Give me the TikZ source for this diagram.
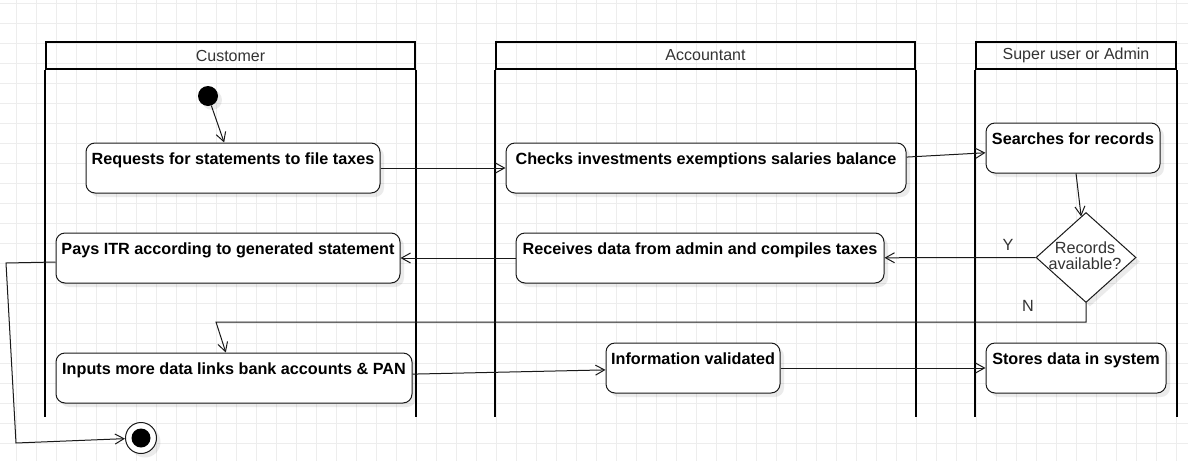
\documentclass[tikz,border=0pt]{standalone}
\usepackage{fontspec}
\setmainfont{Liberation Sans}
\usepackage{xcolor}
\usepackage{tikz}
\usetikzlibrary{arrows.meta,shapes.geometric,shadows}

\tikzset{
	gridline/.style={draw=black!7, line width=0.9pt},
	lanehead/.style={draw=black, line width=2.2pt, minimum height=27pt, inner sep=0pt, text=black!80, font=\fontsize{16}{16}\selectfont},
	laneline/.style={draw=black, line width=2.2pt},
	shade/.style={drop shadow={shadow xshift=4pt, shadow yshift=-4pt, opacity=0.08, fill=black}},
	act/.style={draw=black!90, line width=1pt, fill=white, rounded corners=9pt, shade, minimum height=50pt, inner ysep=5.5pt, text height=15.5pt, text depth=23.5pt, font=\bfseries\fontsize{16.2}{16}\selectfont},
	decide/.style={diamond, draw=black!90, line width=1pt, fill=white, shade, inner sep=0pt, minimum width=100pt, minimum height=90pt},
	startdot/.style={circle, fill=black, shade, minimum size=20pt, inner sep=0pt},
	enddot/.style={circle, draw=black!90, line width=1pt, fill=white, shade, minimum size=31pt, inner sep=0pt, path picture={\fill[black] (path picture bounding box.center) circle (9.5pt);}},
	flow/.style={draw=black!90, line width=1pt, -{Straight Barb[length=9pt,width=10pt]}},
	tag/.style={text=black!80, font=\fontsize{16.2}{16}\selectfont}
}

\begin{document}
\begin{tikzpicture}[x=1pt, y=-1pt]
		\useasboundingbox (0,0) rectangle (1188,461);
		% Background grid
		\foreach \gx in {16,36,...,1176} \draw[gridline] (\gx,0) -- (\gx,461);
		\foreach \gy in {3,23,...,443} \draw[gridline] (0,\gy) -- (1188,\gy);
		% Lanes
		%% Customer
		\node[lanehead, minimum width=369pt] (cust) at (230.5, 55.5) {Customer};
		\draw[laneline] (cust.south west) -- ++(0,347);
		\draw[laneline] (cust.south east) -- ++(0,347);
		%% Accountant
		\node[lanehead, minimum width=419pt] (acct) at (705.5, 55.5) {Accountant};
		\draw[laneline] (acct.south west) -- ++(0,347);
		\draw[laneline] (acct.south east) -- ++(0,347);
		%% Admin
		\node[lanehead, minimum width=200pt] (admin) at (1076, 55.5) {Super user or Admin};
		\draw[laneline] (admin.south west) -- ++(0,347);
		\draw[laneline] (admin.south east) -- ++(0,347);
		% Picture nodes
		%% Customer lane
		\node[startdot] (init) at (208, 96) {};
		\node[act, minimum width=294pt] (req) at (233, 168) {Requests for statements to file taxes};
		\node[act, minimum width=344pt] (pays) at (228, 258) {Pays ITR according to generated statement};
		\node[act, minimum width=356pt] (inp) at (234, 378) {Inputs more data links bank accounts \& PAN};
		\node[enddot] (fin) at (141, 438) {};
		%% Accountant lane
		\node[act, minimum width=400pt] (chk) at (706, 168) {Checks investments exemptions salaries balance};
		\node[act, minimum width=368pt] (recv) at (700, 258) {Receives data from admin and compiles taxes};
		\node[act, minimum width=174pt] (info) at (693, 368) {Information validated};
		%% Admin lane
		\node[act, minimum width=174pt] (srch) at (1073, 148) {Searches for records};
		\node[decide] (avail) at (1086, 257.5) {};
		\node[tag, align=center] (availtxt) at (1085, 256) {Records\\available?};
		\node[act, minimum width=180pt] (stor) at (1076, 368) {Stores data in system};
		%% Branch labels
		\node[tag] (ylab) at (1008, 245) {Y};
		\node[tag] (nlab) at (1028, 306) {N};
		%% Bends
		\coordinate (nbend) at (216, 322);
		\coordinate (c1) at (6, 263);
		\coordinate (c2) at (16, 443);
		% Picture arcs
		\draw[flow] (init) -- (req);
		\draw[flow] (req) -- (chk);
		\draw[flow] (chk) -- (srch);
		\draw[flow] (srch) -- (avail);
		\draw[flow] (avail) -- (recv);
		\draw[flow] (recv) -- (pays);
		\draw[flow] (avail.south) |- (nbend) -- (inp);
		\draw[flow] (inp) -- (info);
		\draw[flow] (info) -- (stor);
		\draw[flow] ([yshift=-4pt]pays.west) -- (c1) -- (c2) -- (fin);
	\end{tikzpicture}
\end{document}
